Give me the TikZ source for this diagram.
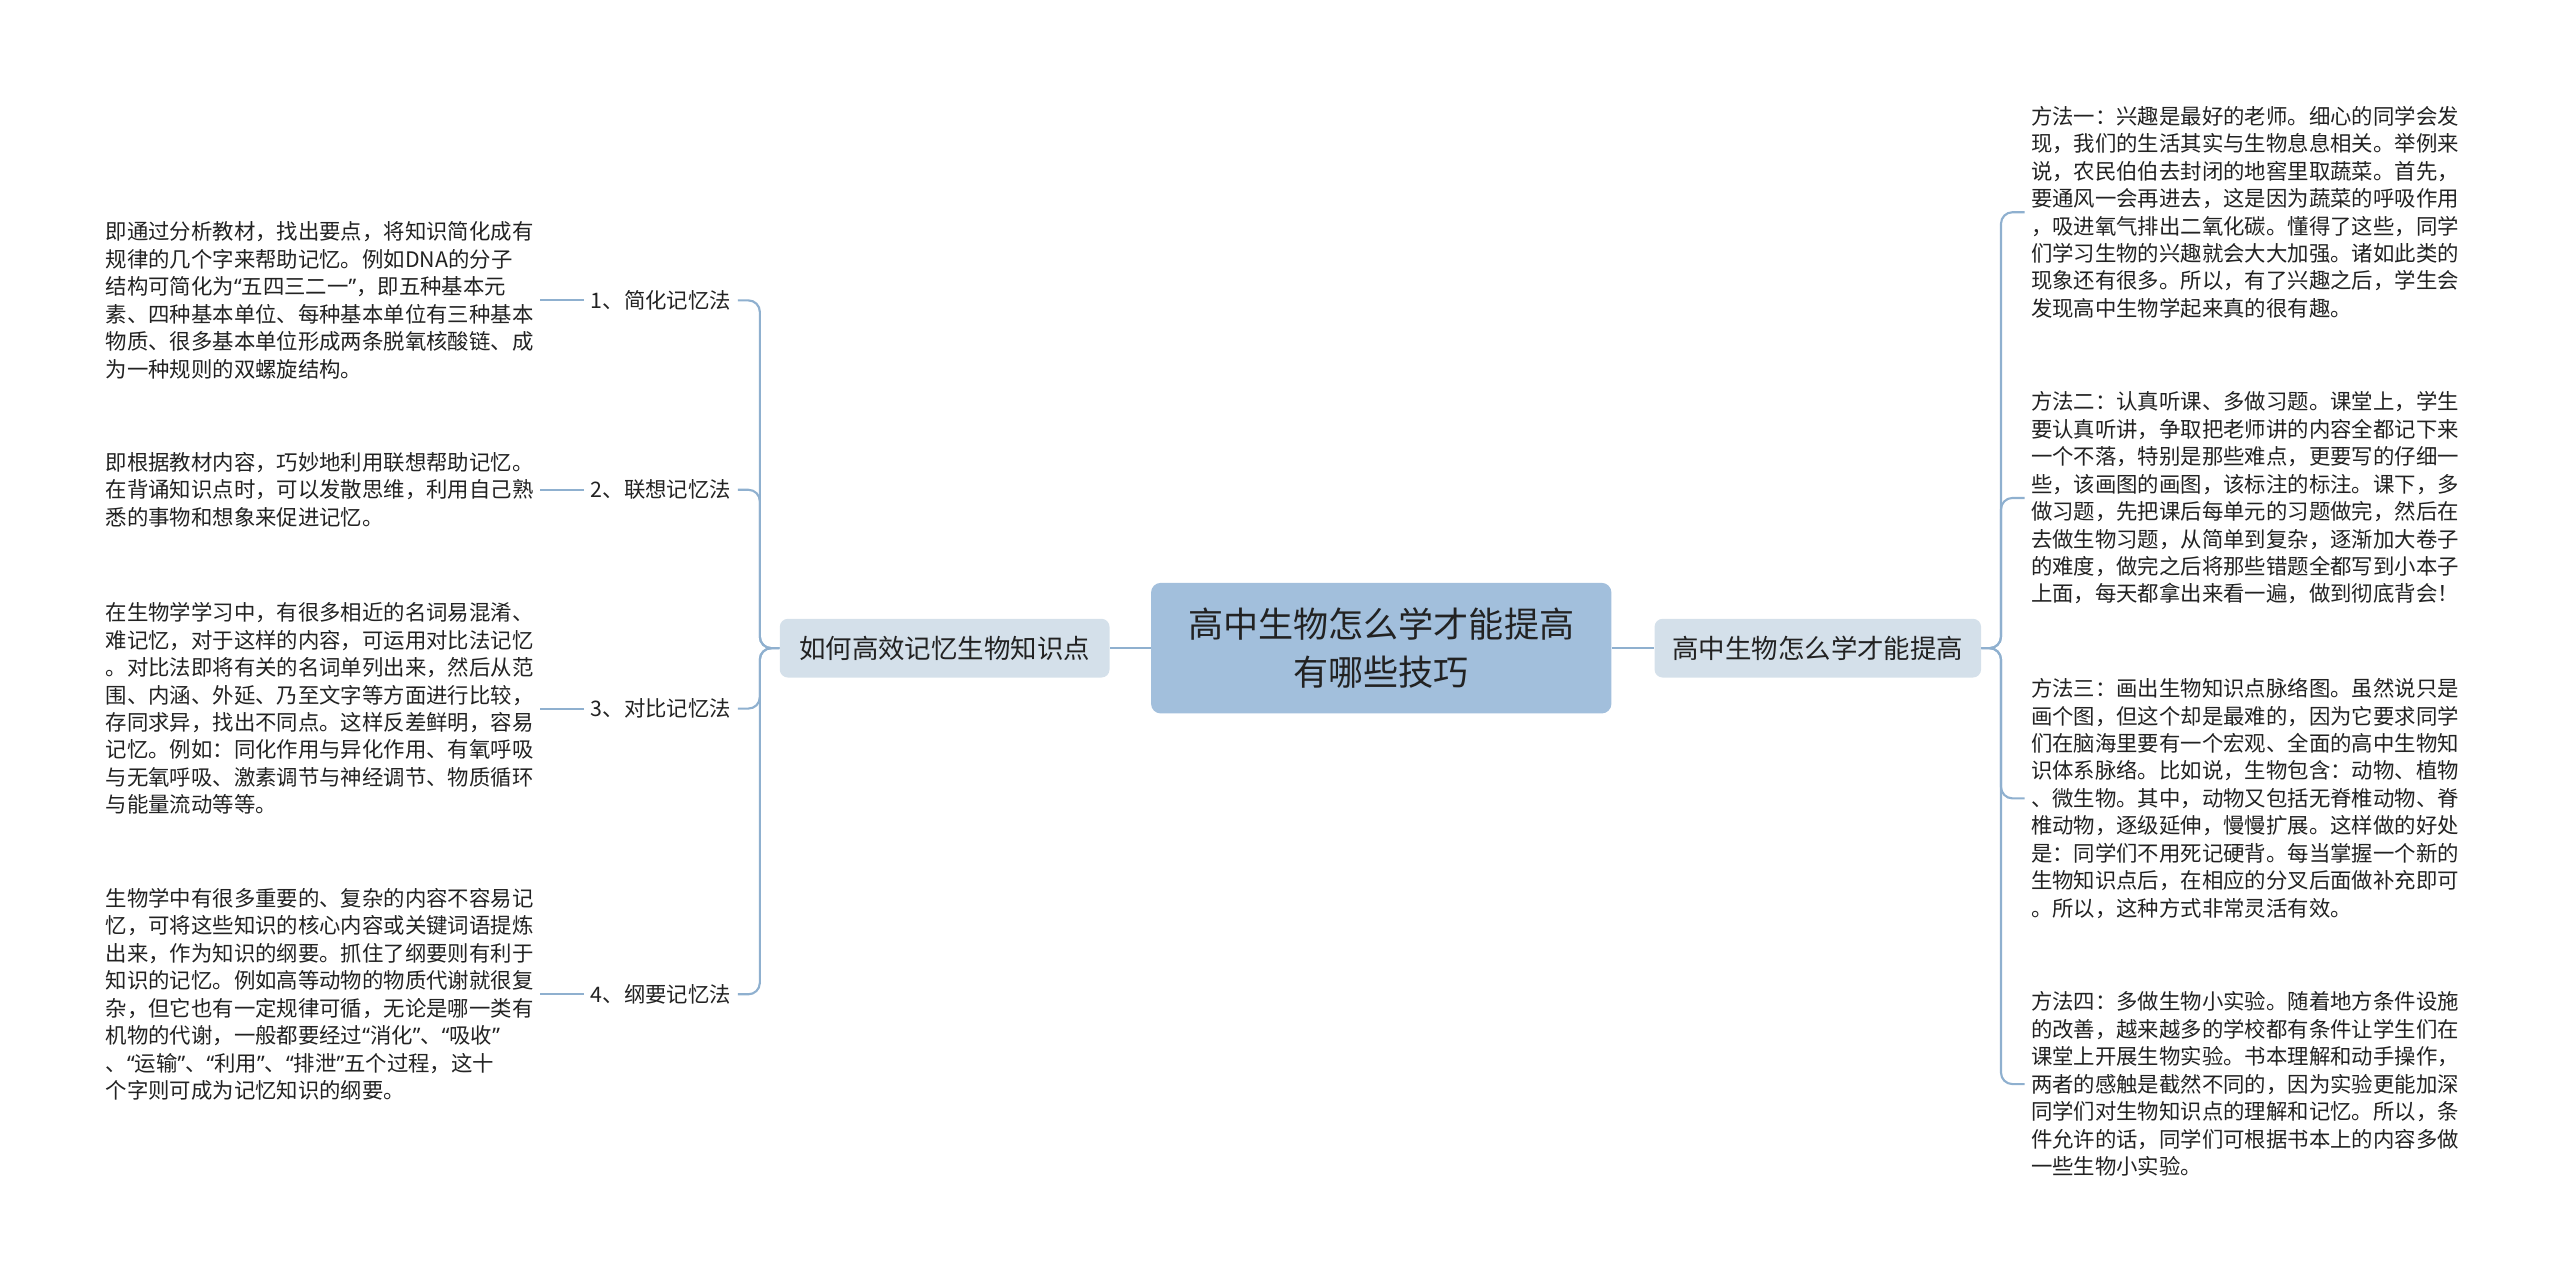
\documentclass[tikz,border=0pt]{standalone}
\usepackage{fontspec}
\usetikzlibrary{positioning}
\newfontfamily\cjk{Noto Sans CJK SC}
\newfontfamily\latinq{Noto Sans}
\newcommand\qo{{\latinq “}}
\newcommand\qc{{\latinq ”}}

\definecolor{rootblue}{HTML}{A2BFDC}
\definecolor{topicblue}{HTML}{D4E0EA}
\definecolor{linkblue}{HTML}{8FB0CF}
\definecolor{textdark}{HTML}{222222}

\tikzset{
  root/.style={fill=rootblue, rounded corners=6pt, minimum width=282pt, minimum height=80pt,
    align=center, text=textdark, font=\cjk\fontsize{21.5}{29}\selectfont},
  topic/.style={fill=topicblue, rounded corners=5pt, minimum height=36pt, inner xsep=9pt,
    text=textdark, font=\cjk\fontsize{16.2}{18}\selectfont},
  sub/.style={inner sep=4pt, text=textdark, font=\cjk\fontsize{13.1}{16}\selectfont},
  desc/.style={inner sep=0pt, outer sep=4pt, align=left, text=textdark,
    font=\cjk\fontsize{13.1}{16.8}\selectfont},
  link/.style={draw=linkblue, line width=1.3pt, rounded corners=7pt},
}

\begin{document}
\begin{tikzpicture}[x=1pt, y=-1pt]
  \useasboundingbox (0,0) rectangle (1568,786);

  % centre and main topics
  \node[root] (root) at (846,397) {高中生物怎么学才能提高\\有哪些技巧};
  \node[topic, minimum width=202pt, left=25pt of root]  (memo) {如何高效记忆生物知识点};
  \node[topic, minimum width=200pt, right=26pt of root] (tips) {高中生物怎么学才能提高};

  % left side: memory methods
  \node[sub, anchor=east] (m1) at (452,184) {1、简化记忆法};
  \node[sub, anchor=east] (m2) at (452,300) {2、联想记忆法};
  \node[sub, anchor=east] (m3) at (452,434) {3、对比记忆法};
  \node[sub, anchor=east] (m4) at (452,609) {4、纲要记忆法};

  \node[desc, left=27pt of m1] (d1) {即通过分析教材，找出要点，将知识简化成有\\
规律的几个字来帮助记忆。例如DNA的分子\\
结构可简化为\qo 五四三二一\qc，即五种基本元\\
素、四种基本单位、每种基本单位有三种基本\\
物质、很多基本单位形成两条脱氧核酸链、成\\
为一种规则的双螺旋结构。};
  \node[desc, left=27pt of m2] (d2) {即根据教材内容，巧妙地利用联想帮助记忆。\\
在背诵知识点时，可以发散思维，利用自己熟\\
悉的事物和想象来促进记忆。};
  \node[desc, left=27pt of m3] (d3) {在生物学学习中，有很多相近的名词易混淆、\\
难记忆，对于这样的内容，可运用对比法记忆\\
。对比法即将有关的名词单列出来，然后从范\\
围、内涵、外延、乃至文字等方面进行比较，\\
存同求异，找出不同点。这样反差鲜明，容易\\
记忆。例如：同化作用与异化作用、有氧呼吸\\
与无氧呼吸、激素调节与神经调节、物质循环\\
与能量流动等等。};
  \node[desc, left=27pt of m4] (d4) {生物学中有很多重要的、复杂的内容不容易记\\
忆，可将这些知识的核心内容或关键词语提炼\\
出来，作为知识的纲要。抓住了纲要则有利于\\
知识的记忆。例如高等动物的物质代谢就很复\\
杂，但它也有一定规律可循，无论是哪一类有\\
机物的代谢，一般都要经过\qo 消化\qc、\qo 吸收\qc\\
、\qo 运输\qc、\qo 利用\qc、\qo 排泄\qc 五个过程，这十\\
个字则可成为记忆知识的纲要。};

  % right side: study tips
  \node[desc, anchor=west] (t1) at (1240,130) {方法一：兴趣是最好的老师。细心的同学会发\\
现，我们的生活其实与生物息息相关。举例来\\
说，农民伯伯去封闭的地窖里取蔬菜。首先，\\
要通风一会再进去，这是因为蔬菜的呼吸作用\\
，吸进氧气排出二氧化碳。懂得了这些，同学\\
们学习生物的兴趣就会大大加强。诸如此类的\\
现象还有很多。所以，有了兴趣之后，学生会\\
发现高中生物学起来真的很有趣。};
  \node[desc, anchor=west] (t2) at (1240,305) {方法二：认真听课、多做习题。课堂上，学生\\
要认真听讲，争取把老师讲的内容全都记下来\\
一个不落，特别是那些难点，更要写的仔细一\\
些，该画图的画图，该标注的标注。课下，多\\
做习题，先把课后每单元的习题做完，然后在\\
去做生物习题，从简单到复杂，逐渐加大卷子\\
的难度，做完之后将那些错题全都写到小本子\\
上面，每天都拿出来看一遍，做到彻底背会！};
  \node[desc, anchor=west] (t3) at (1240,489) {方法三：画出生物知识点脉络图。虽然说只是\\
画个图，但这个却是最难的，因为它要求同学\\
们在脑海里要有一个宏观、全面的高中生物知\\
识体系脉络。比如说，生物包含：动物、植物\\
、微生物。其中，动物又包括无脊椎动物、脊\\
椎动物，逐级延伸，慢慢扩展。这样做的好处\\
是：同学们不用死记硬背。每当掌握一个新的\\
生物知识点后，在相应的分叉后面做补充即可\\
。所以，这种方式非常灵活有效。};
  \node[desc, anchor=west] (t4) at (1240,664) {方法四：多做生物小实验。随着地方条件设施\\
的改善，越来越多的学校都有条件让学生们在\\
课堂上开展生物实验。书本理解和动手操作，\\
两者的感触是截然不同的，因为实验更能加深\\
同学们对生物知识点的理解和记忆。所以，条\\
件允许的话，同学们可根据书本上的内容多做\\
一些生物小实验。};

  % connectors
  \draw[link] (root) -- (memo);
  \draw[link] (root) -- (tips);
  \foreach \m in {m1,m2,m3,m4}
    \draw[link] (memo.west) -- ++(-12,0) |- (\m.east);
  \draw[link] (m1) -- (d1);
  \draw[link] (m2) -- (d2);
  \draw[link] (m3) -- (d3);
  \draw[link] (m4) -- (d4);
  \foreach \t in {t1,t2,t3,t4}
    \draw[link] (tips.east) -- ++(12,0) |- (\t.west);
\end{tikzpicture}
\end{document}
